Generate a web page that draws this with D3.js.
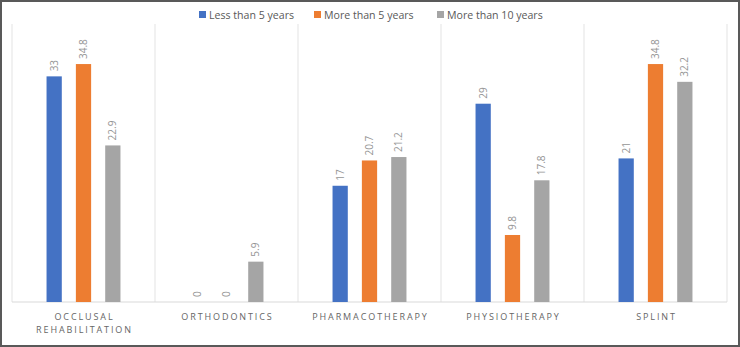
<!DOCTYPE html>
<html lang="en">
<head>
<meta charset="utf-8">
<title>Treatment by experience</title>
<script src="https://d3js.org/d3.v7.min.js"></script>
<style>
  body { margin: 0; background: #fff; font-family: "Open Sans", "Noto Sans", sans-serif; }
  #chart { width: 740px; height: 347px; }
</style>
</head>
<body>
<div id="chart"></div>
<script>
// data
var categories = [["OCCLUSAL", "REHABILITATION"], ["ORTHODONTICS"], ["PHARMACOTHERAPY"], ["PHYSIOTHERAPY"], ["SPLINT"]];
var seriesNames = ["Less than 5 years", "More than 5 years", "More than 10 years"];
var lessThan5 = [33, 0, 17, 29, 21];
var moreThan5 = [34.8, 0, 20.7, 9.8, 34.8];
var moreThan10 = [22.9, 5.9, 21.2, 17.8, 32.2];
var colors = ["#4472C4", "#ED7D31", "#A5A5A5"];

var series = [lessThan5, moreThan5, moreThan10];

var w = 740, h = 347;
var plotLeft = 12, plotRight = 727, plotTop = 24, plotBottom = 302;

var svg = d3.select("#chart").append("svg")
  .attr("width", w).attr("height", h);

// frame around the picture
svg.append("rect")
  .attr("x", 1).attr("y", 1).attr("width", w - 2).attr("height", h - 2)
  .attr("fill", "none").attr("stroke", "#595959").attr("stroke-width", 2);

var x0 = d3.scaleBand().domain(d3.range(categories.length)).range([plotLeft, plotRight]);
var x1 = d3.scaleBand().domain(d3.range(series.length))
  .range([27.5, x0.bandwidth() - 27.5]).paddingInner(0.48).paddingOuter(0.24);
// scale top sits a bit under the top of the separators
var y = d3.scaleLinear().domain([0, 40]).range([plotBottom, 28.5]);

// vertical separators between categories
var seps = d3.range(categories.length + 1).map(function(i) {
  return i < categories.length ? x0(i) : x0(categories.length - 1) + x0.bandwidth();
});
svg.selectAll(".sep").data(seps).enter().append("line")
  .attr("class", "sep")
  .attr("x1", function(d) { return d; }).attr("x2", function(d) { return d; })
  .attr("y1", plotTop).attr("y2", plotBottom)
  .attr("stroke", "#e3e3e3").attr("stroke-width", 1);

// baseline
svg.append("line")
  .attr("x1", plotLeft).attr("x2", plotRight)
  .attr("y1", y(0)).attr("y2", y(0))
  .attr("stroke", "#d9d9d9");

var groups = svg.selectAll(".grp").data(categories).enter().append("g")
  .attr("class", "grp")
  .attr("transform", function(d, i) { return "translate(" + x0(i) + ",0)"; });

groups.each(function(cat, ci) {
  var g = d3.select(this);
  series.forEach(function(vals, si) {
    var v = vals[ci];
    g.append("rect")
      .attr("x", x1(si))
      .attr("y", y(v))
      .attr("width", x1.bandwidth())
      .attr("height", y(0) - y(v))
      .attr("fill", colors[si]);
    var cx = x1(si) + x1.bandwidth() / 2;
    var ty = y(v) - 5;
    g.append("text")
      .attr("transform", "translate(" + (cx + 3.5) + "," + ty + ") rotate(-90)")
      .attr("text-anchor", "start")
      .attr("font-size", "10px")
      .attr("fill", "#959595")
      .text(v);
  });
  // category label
  var lab = g.append("text")
    .attr("x", x0.bandwidth() / 2)
    .attr("y", 320)
    .attr("text-anchor", "middle")
    .attr("font-size", "9px")
    .attr("letter-spacing", "1.9px")
    .attr("fill", "#666666");
  cat.forEach(function(line, li) {
    lab.append("tspan")
      .attr("x", x0.bandwidth() / 2 + 1)
      .attr("dy", li === 0 ? 0 : 13)
      .text(line);
  });
});

// legend
var legendX = [199, 314, 437];
var legend = svg.selectAll(".leg").data(seriesNames).enter().append("g")
  .attr("class", "leg")
  .attr("transform", function(d, i) { return "translate(" + legendX[i] + ",11)"; });
legend.append("rect")
  .attr("width", 7).attr("height", 7)
  .attr("fill", function(d, i) { return colors[i]; });
legend.append("text")
  .attr("x", 10).attr("y", 7.5)
  .attr("font-size", "10.6px")
  .attr("fill", "#595959")
  .text(function(d) { return d; });
</script>
</body>
</html>
